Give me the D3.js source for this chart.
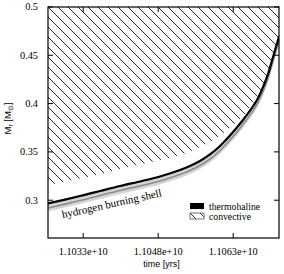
<!DOCTYPE html>
<html>
<head>
<meta charset="utf-8">
<script src="https://cdn.jsdelivr.net/npm/d3@7"></script>
<style>
  body { margin: 0; background: #fff; }
  svg { display: block; }
</style>
</head>
<body>
<div id="chart"></div>
<script>
// time [yrs] of the sampled points
const time = [11026.06e6, 11032.46e6, 11036.46e6, 11040.46e6, 11044.86e6, 11048.46e6,
  11052.46e6, 11054.46e6, 11056.46e6, 11058.46e6, 11060.46e6, 11062.46e6,
  11065.06e6, 11067.86e6, 11069.86e6, 11071.06e6, 11072.06e6, 11072.26e6];
// thermohaline (upper edge of the burning shell) in M_r
const thermohaline = [0.2961, 0.3038, 0.3090, 0.3142, 0.3194, 0.3240,
  0.3307, 0.3349, 0.3401, 0.3468, 0.3556, 0.3664,
  0.3825, 0.4032, 0.4270, 0.4477, 0.4653, 0.4691];
// lower edge of the hydrogen burning shell
const shellLow = [0.2878, 0.2955, 0.3007, 0.3059, 0.3111, 0.3157,
  0.3224, 0.3266, 0.3318, 0.3385, 0.3473, 0.3581,
  0.3744, 0.3952, 0.4192, 0.4399, 0.4575, 0.4613];
// lower boundary of the convective zone (reaches up to 0.5)
const convBottom = [0.3152, 0.3219, 0.3266, 0.3318, 0.3369, 0.3411,
  0.3463, 0.3499, 0.3545, 0.3597, 0.3664, 0.3745,
  0.3866, 0.4063, 0.4291, 0.4498, 0.4674, 0.4710];

const xTicks = [1.1033e10, 1.1048e10, 1.1063e10];
const yTicks = [0.3, 0.35, 0.4, 0.45, 0.5];

const SERIF = "'Liberation Serif', 'Times New Roman', serif";
const SANS = "'Liberation Sans', Arial, sans-serif";

const width = 284, height = 274;
const margin = {top: 7, right: 5, bottom: 36, left: 48};
const iw = width - margin.left - margin.right;
const ih = height - margin.top - margin.bottom;

const svg = d3.select('#chart').append('svg')
  .attr('width', width)
  .attr('height', height);

const defs = svg.append('defs');
defs.append('pattern')
  .attr('id', 'hatch')
  .attr('patternUnits', 'userSpaceOnUse')
  .attr('width', 10).attr('height', 10)
  .append('path')
  .attr('d', 'M0,0L10,10M-5,5L5,15M5,-5L15,5')
  .attr('stroke', '#111')
  .attr('stroke-width', 0.9);
defs.append('clipPath').attr('id', 'clip')
  .append('rect').attr('width', iw).attr('height', ih);

const g = svg.append('g').attr('transform', `translate(${margin.left},${margin.top})`);

const x = d3.scaleLinear().domain([11026.06e6, 11072.26e6]).range([0, iw]);
const y = d3.scaleLinear().domain([0.2604, 0.4994]).range([ih, 0]);

const pts = time.map((t, i) => ({t, th: thermohaline[i], lo: shellLow[i], cv: convBottom[i]}));
const curve = d3.curveCatmullRom;

const plot = g.append('g').attr('clip-path', 'url(#clip)');

// convective zone
plot.append('path')
  .attr('fill', 'url(#hatch)')
  .attr('d', d3.area().curve(curve).x(d => x(d.t)).y0(d => y(d.cv)).y1(0)(pts));

// hydrogen burning shell
plot.append('path')
  .attr('fill', '#d4d4d4')
  .attr('d', d3.area().curve(curve).x(d => x(d.t)).y0(d => y(d.lo)).y1(d => y(d.th))(pts));
plot.append('path')
  .attr('fill', 'none')
  .attr('stroke', '#8c8c8c')
  .attr('stroke-width', 1.6)
  .attr('d', d3.line().curve(curve).x(d => x(d.t)).y(d => y((d.lo + d.th) / 2) + 0.5)(pts));

// thermohaline
plot.append('path')
  .attr('fill', 'none')
  .attr('stroke', '#000')
  .attr('stroke-width', 2.2)
  .attr('d', d3.line().curve(curve).x(d => x(d.t)).y(d => y(d.th))(pts));

// label along the shell
g.append('text')
  .attr('transform', `translate(${x(11029.0e6)},${y(0.2808)}) rotate(-12.5)`)
  .attr('font-family', SERIF)
  .attr('font-size', 11)
  .text('hydrogen burning shell');

// axes, ticks inside
const fmtX = d3.format('.4e');
g.append('g').attr('transform', `translate(0,${ih})`)
  .call(d3.axisBottom(x).tickValues(xTicks).tickSize(-5).tickPadding(10).tickFormat(fmtX));
g.append('g')
  .call(d3.axisTop(x).tickValues(xTicks).tickSize(-5).tickFormat(''));
g.append('g')
  .call(d3.axisLeft(y).tickValues(yTicks).tickSize(-5).tickPadding(10).tickFormat(d => String(+d.toFixed(2))));
g.append('g').attr('transform', `translate(${iw},0)`)
  .call(d3.axisRight(y).tickValues(yTicks).tickSize(-5).tickFormat(''));
g.selectAll('.domain').remove();
g.selectAll('.tick line').attr('stroke', '#000');
g.selectAll('.tick text')
  .attr('font-family', SERIF)
  .attr('font-size', 10.3)
  .attr('fill', '#000');

g.append('rect')
  .attr('width', iw).attr('height', ih)
  .attr('fill', 'none').attr('stroke', '#000').attr('stroke-width', 1.2);

// legend
const leg = g.append('g').attr('transform', `translate(${iw - 89},${ih - 35})`);
leg.append('rect').attr('x', 0).attr('y', 0).attr('width', 14).attr('height', 6).attr('fill', '#000');
leg.append('rect').attr('x', 0).attr('y', 10).attr('width', 14).attr('height', 6)
  .attr('fill', 'url(#hatch)').attr('stroke', '#555').attr('stroke-width', 0.8);
leg.selectAll('text.lg').data(['thermohaline', 'convective']).join('text')
  .attr('x', 19).attr('y', (d, i) => 6.5 + i * 10)
  .attr('font-family', SERIF)
  .attr('font-size', 9.7)
  .text(d => d);

// axis titles
svg.append('text')
  .attr('x', margin.left + iw / 2 - 2).attr('y', 267)
  .attr('text-anchor', 'middle')
  .attr('font-family', SANS)
  .attr('font-size', 9)
  .text('time [yrs]');

const yl = svg.append('text')
  .attr('transform', `translate(11,${margin.top + ih / 2 - 4}) rotate(-90)`)
  .attr('text-anchor', 'middle')
  .attr('font-family', SANS)
  .attr('font-size', 9.5);
yl.append('tspan').text('M');
yl.append('tspan').attr('dy', 2).attr('font-size', 6.5).text('r');
yl.append('tspan').attr('dy', -2).text(' [M');
yl.append('tspan').attr('dy', 2).attr('font-size', 6.5).text('\u2299');
yl.append('tspan').attr('dy', -2).text(']');
</script>
</body>
</html>
